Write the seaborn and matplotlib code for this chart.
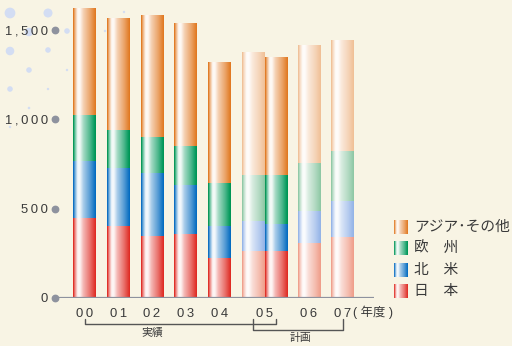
import numpy as np
import pandas as pd
import matplotlib
matplotlib.use('Agg')
import matplotlib.pyplot as plt
import seaborn as sns
from matplotlib.colors import to_rgb

# data (y axis 0-1,500)
years = ['00', '01', '02', '03', '04', '05', '06', '07']
bar_pos = [0, 1, 2, 3, 4, 5, 5.67, 6.65, 7.65]
bar_kind = ['実績'] * 5 + ['計画', '実績', '計画', '計画']
tick_pos = [0, 1, 2, 3, 4, 5.335, 6.65, 7.65]
japan = [443, 398, 346, 354, 218, 259, 259, 303, 337]
n_america = [317, 323, 347, 272, 180, 166, 154, 179, 201]
europe = [257, 212, 203, 219, 239, 257, 269, 272, 278]
asia = [603, 626, 685, 686, 681, 692, 664, 659, 620]
layers = ['日　本', '北　米', '欧　州', 'アジア･その他']

dark = {'アジア･その他': '#E27D28', '欧　州': '#00985A', '北　米': '#0B70C2', '日　本': '#E0322A'}
light = {'アジア･その他': '#F1C29A', '欧　州': '#92CAA8', '北　米': '#97B6E8', '日　本': '#F0A18E'}
BG = '#F8F4E4'
TXT = '#3A3A3A'
GREY = '#8E929E'

sns.set_theme(style='white')
plt.rcParams['font.family'] = ['Liberation Sans', 'Noto Sans CJK JP', 'DejaVu Sans']


def gradient(c, n=80):
    c = np.array(to_rgb(c))
    t = np.linspace(0, 1, n)
    a = np.interp(t, [0, 0.07, 0.2, 0.3, 0.45, 0.75, 1.0],
                  [-0.12, 0.35, 0.95, 0.95, 0.65, 0.3, -0.05])
    rgb = c[None, :] * (1 - a[:, None]) + a[:, None]
    return np.clip(rgb, 0, 1)[None, :, :]


W, H = 512, 346
fig = plt.figure(figsize=(W / 100, H / 100), dpi=100, facecolor=BG)

# decorative bubbles
bg = fig.add_axes([0, 0, 1, 1], zorder=-1)
bg.set_xlim(0, W)
bg.set_ylim(H, 0)
bg.axis('off')
bx = [10, 48, 29, 67, 10, 48, 29, 67, 10, 48, 29, 10, 124, 105]
by = [13, 13, 32, 31, 51, 50, 70, 70, 89, 89, 108, 127, 12, 31]
bs = [60, 42, 38, 16, 38, 16, 16, 3, 16, 3, 3.5, 3, 3, 3]
bg.scatter(bx, by, s=bs, color='#D3DDF3', linewidths=0)

x0, x1 = 55, 374
ax = fig.add_axes([x0 / W, (H - 298) / H, (x1 - x0) / W, 298 / H])
ax.set_facecolor('none')

df = pd.DataFrame({'pos': bar_pos, 'kind': bar_kind, '日　本': japan, '北　米': n_america,
                   '欧　州': europe, 'アジア･その他': asia})
cum = df[layers].cumsum(axis=1)

for z, name in enumerate(reversed(layers)):
    n_before = len(ax.patches)
    sns.barplot(x=df['pos'], y=cum[name], native_scale=True, width=1.0, orient='x',
                color=dark[name], errorbar=None, ax=ax, zorder=2 + z, linewidth=0)
    for p in ax.patches[n_before:]:
        cx = p.get_x() + p.get_width() / 2
        i = int(np.argmin(np.abs(np.array(bar_pos) - cx)))
        col = dark[name] if bar_kind[i] == '実績' else light[name]
        p.set_facecolor(col)
        ax.imshow(gradient(col), extent=[p.get_x(), p.get_x() + p.get_width(), 0, p.get_height()],
                  aspect='auto', interpolation='bilinear', zorder=2.5 + z)

ax.set_xlim(-(84.5 - x0) / 33.75, (x1 - 84.5) / 33.75)
ax.set_ylim(0, 298 / 0.179)
ax.set_aspect('auto')
for s in ax.spines.values():
    s.set_visible(False)
ax.axhline(0, color=GREY, lw=1.6, zorder=10)

yt = [0, 500, 1000, 1500]
ax.plot([ax.get_xlim()[0]] * len(yt), yt, 'o', color=GREY, ms=4.6, clip_on=False, zorder=11)
ax.set_yticks(yt, ['\u2009'.join(f'{v:,}') for v in yt])
ax.set_xticks(tick_pos, ['\u2009'.join(y) for y in years])
ax.tick_params(axis='y', length=0, pad=5, labelsize=9.4, labelcolor=TXT)
ax.tick_params(axis='x', length=0, pad=7, labelsize=9.4, labelcolor=TXT)
ax.set_xlabel('')
ax.set_ylabel('')
ax.grid(False)

xt = ax.get_xaxis_transform()


def fy(ypx):
    return (298 - ypx) / 298


ax.text(8.55, fy(312.5), '( 年度 )', transform=xt, ha='center', va='center',
        fontsize=8.9, color=TXT, clip_on=False)

# brackets 実績 / 計画
act = [bar_pos[i] for i, k in enumerate(bar_kind) if k == '実績']
pln = [bar_pos[i] for i, k in enumerate(bar_kind) if k == '計画']
ax.plot([act[0], act[0], act[-1], act[-1]], [fy(318.5), fy(323.5), fy(323.5), fy(318.5)],
        transform=xt, color='#555555', lw=1, clip_on=False)
ax.plot([pln[0], pln[0], pln[-1], pln[-1]], [fy(318.5), fy(329.5), fy(329.5), fy(318.5)],
        transform=xt, color='#555555', lw=1, clip_on=False)
ax.text((152.5 - 84.5) / 33.75, fy(333), '実績', transform=xt, ha='center', va='center',
        fontsize=7.8, color=TXT, clip_on=False)
ax.text((300.7 - 84.5) / 33.75, fy(338), '計画', transform=xt, ha='center', va='center',
        fontsize=7.8, color=TXT, clip_on=False)

# legend
lg = fig.add_axes([394 / W, (H - 300) / H, (W - 394) / W, 82 / H])
lg.set_xlim(0, W - 394)
lg.set_ylim(300, 218)
lg.axis('off')
rows = [227, 248.5, 270, 291]
for name, ry in zip(reversed(layers), rows):
    lg.imshow(gradient(dark[name]), extent=[0, 14, ry + 7, ry - 7], aspect='auto',
              interpolation='bilinear')
    lg.text(20, ry, name, va='center', ha='left', fontsize=10.6, color=TXT)
lg.set_xlim(0, W - 394)
lg.set_ylim(300, 218)

fig.savefig('out.png', dpi=100, facecolor=BG)
